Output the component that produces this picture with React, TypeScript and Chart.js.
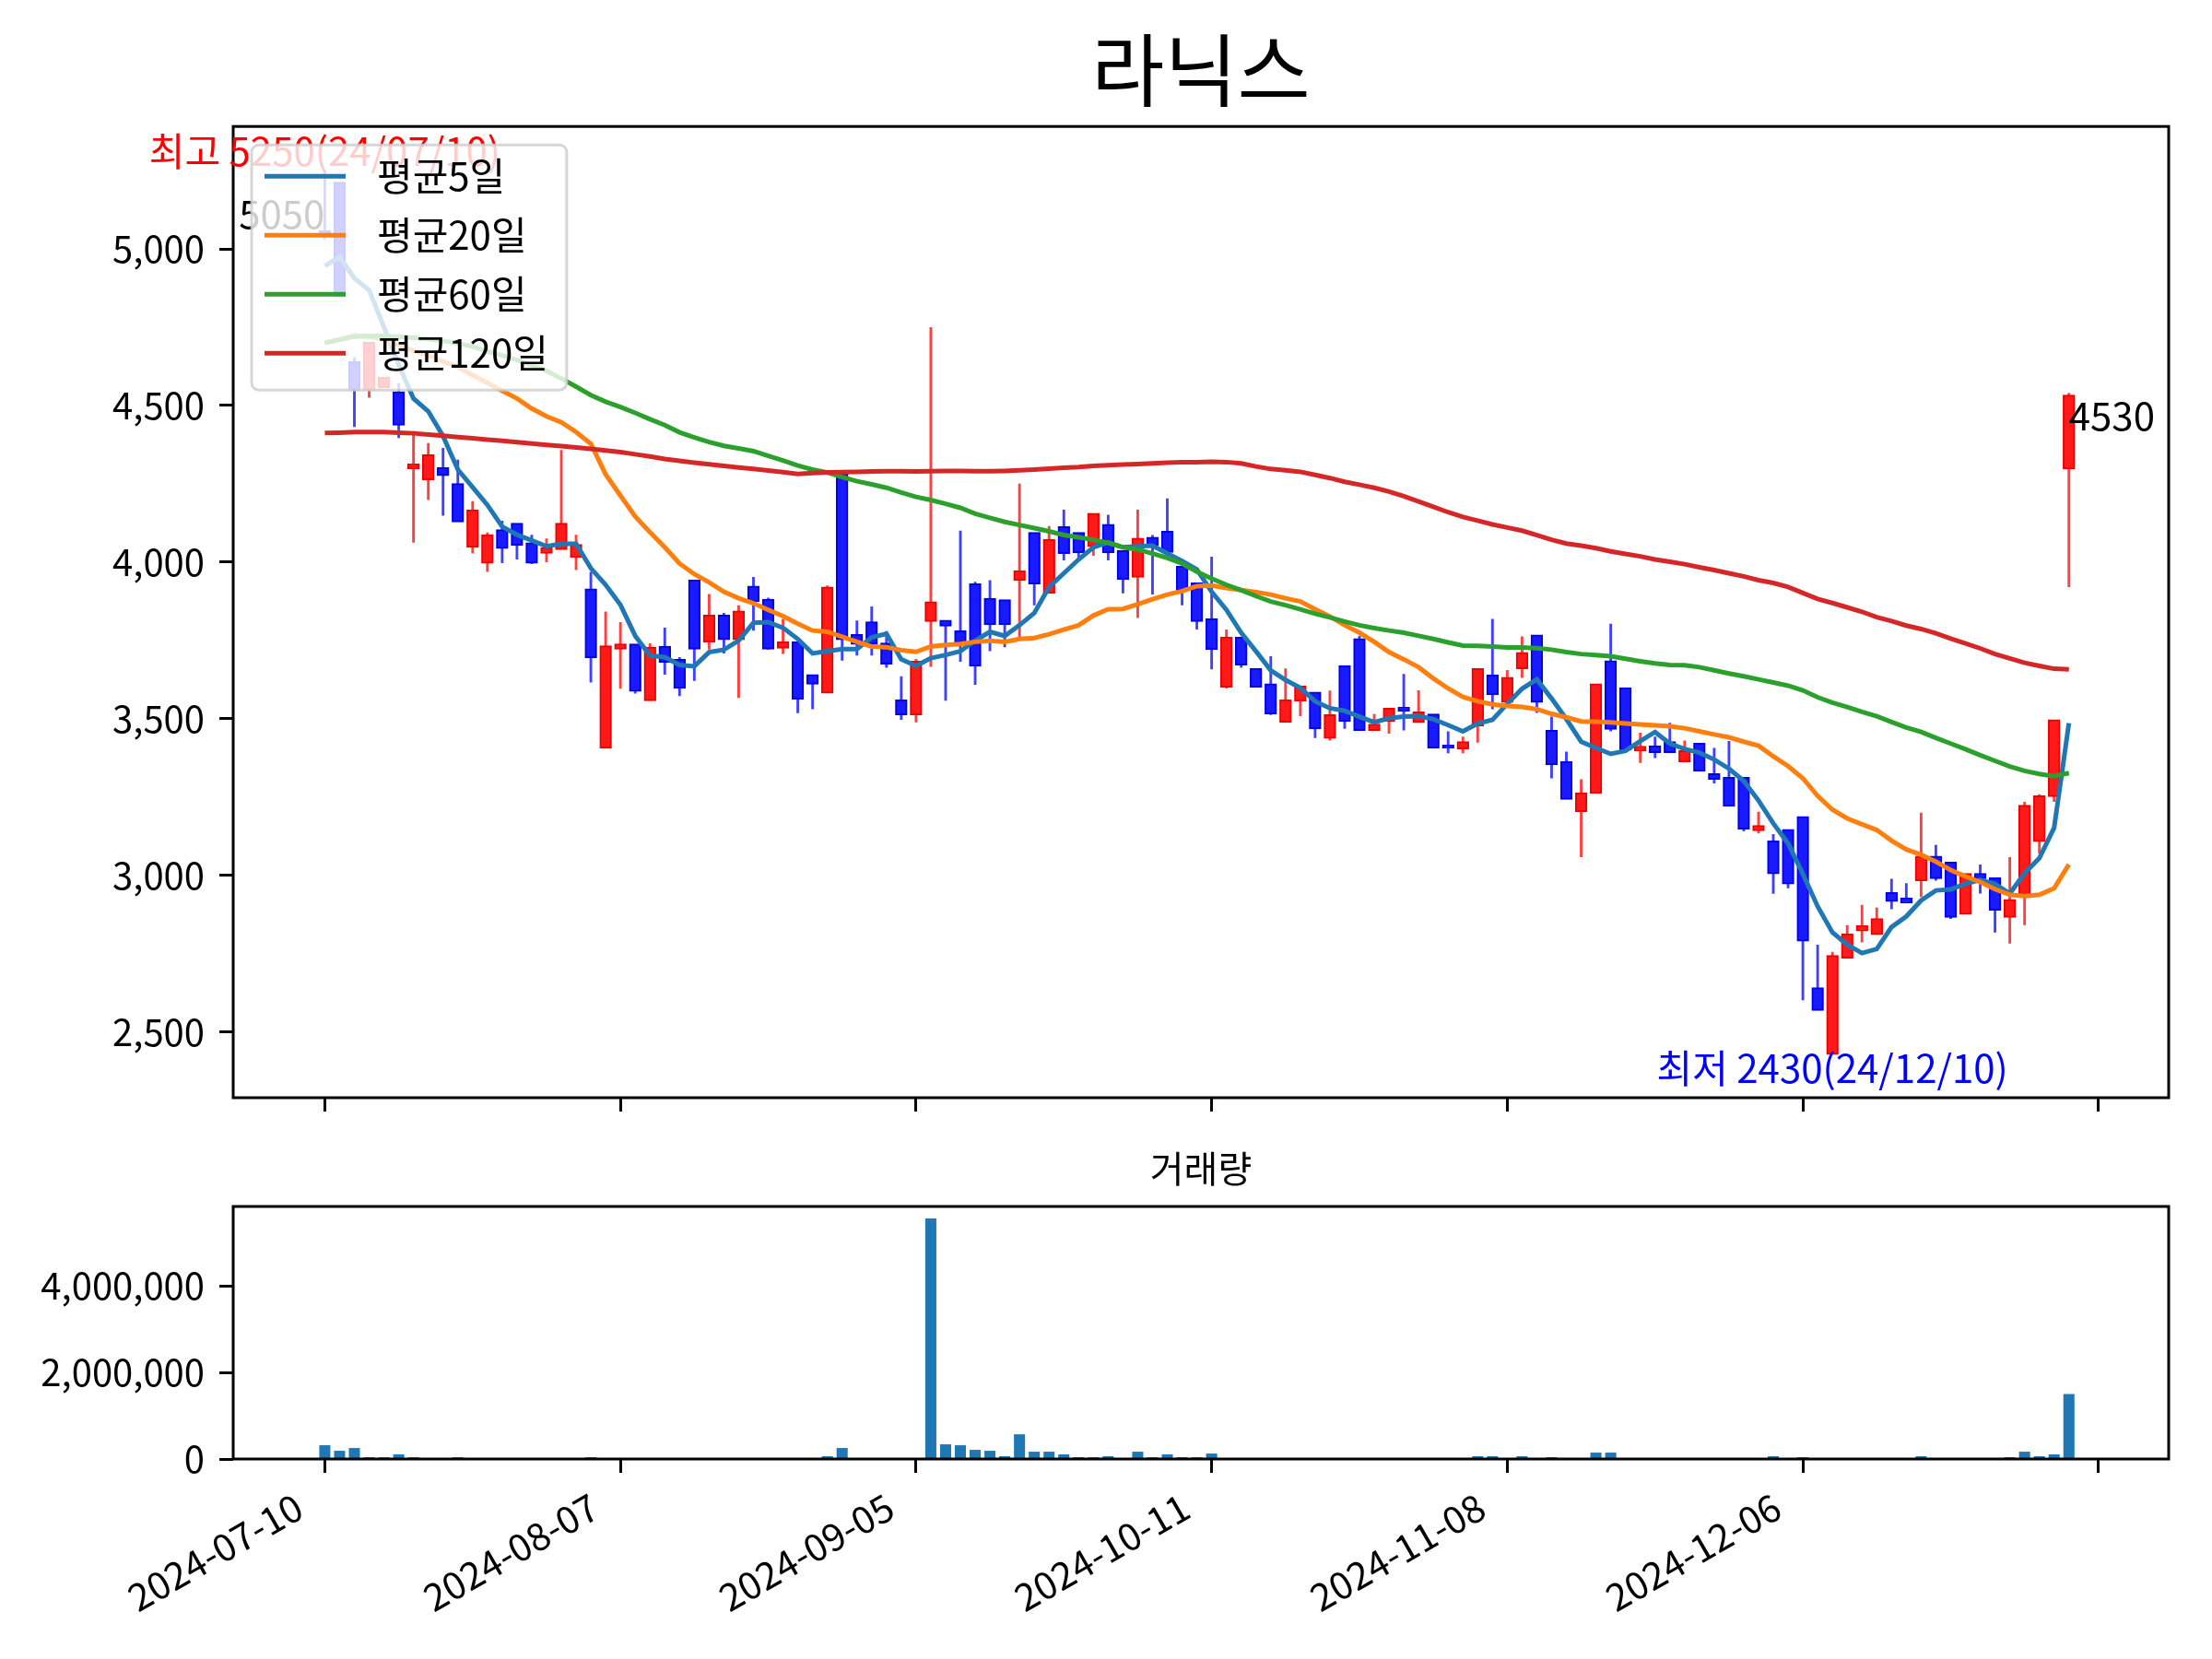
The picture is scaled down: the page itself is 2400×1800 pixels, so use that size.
import React, { useEffect, useRef } from 'react';
import { Chart, registerables } from 'chart.js';

Chart.register(...registerables);

const FONT = '"Noto Sans CJK KR", "Noto Sans", sans-serif';

const TITLE = '라닉스';
const VOLUME_TITLE = '거래량';

const DATES = [
  '2024-07-10','2024-07-11','2024-07-12','2024-07-15','2024-07-16','2024-07-17','2024-07-18','2024-07-19','2024-07-22','2024-07-23',
  '2024-07-24','2024-07-25','2024-07-26','2024-07-29','2024-07-30','2024-07-31','2024-08-01','2024-08-02','2024-08-05','2024-08-06',
  '2024-08-07','2024-08-08','2024-08-09','2024-08-12','2024-08-13','2024-08-14','2024-08-16','2024-08-19','2024-08-20','2024-08-21',
  '2024-08-22','2024-08-23','2024-08-26','2024-08-27','2024-08-28','2024-08-29','2024-08-30','2024-09-02','2024-09-03','2024-09-04',
  '2024-09-05','2024-09-06','2024-09-09','2024-09-10','2024-09-11','2024-09-12','2024-09-13','2024-09-19','2024-09-20','2024-09-23',
  '2024-09-24','2024-09-25','2024-09-26','2024-09-27','2024-09-30','2024-10-02','2024-10-04','2024-10-07','2024-10-08','2024-10-10',
  '2024-10-11','2024-10-14','2024-10-15','2024-10-16','2024-10-17','2024-10-18','2024-10-21','2024-10-22','2024-10-23','2024-10-24',
  '2024-10-25','2024-10-28','2024-10-29','2024-10-30','2024-10-31','2024-11-01','2024-11-04','2024-11-05','2024-11-06','2024-11-07',
  '2024-11-08','2024-11-11','2024-11-12','2024-11-13','2024-11-14','2024-11-15','2024-11-18','2024-11-19','2024-11-20','2024-11-21',
  '2024-11-22','2024-11-25','2024-11-26','2024-11-27','2024-11-28','2024-11-29','2024-12-02','2024-12-03','2024-12-04','2024-12-05',
  '2024-12-06','2024-12-09','2024-12-10','2024-12-11','2024-12-12','2024-12-13','2024-12-16','2024-12-17','2024-12-18','2024-12-19',
  '2024-12-20','2024-12-23','2024-12-24','2024-12-26','2024-12-27','2024-12-30','2025-01-02','2025-01-03','2025-01-06',
];

const OPEN = [
  5055, 5210, 4637, 4553, 4560, 4541, 4301, 4266, 4298, 4247,
  4050, 3999, 4100, 4121, 4058, 4031, 4043, 4018, 3911, 3408,
  3725, 3735, 3560, 3728, 3686, 3940, 3747, 3827, 3755, 3920,
  3878, 3728, 3742, 3637, 3584, 4280, 3765, 3806, 3738, 3556,
  3515, 3813, 3811, 3777, 3927, 3881, 3876, 3944, 4091, 3903,
  4110, 4091, 4052, 4117, 4034, 3954, 4076, 4095, 3983, 3930,
  3816, 3603, 3757, 3657, 3608, 3491, 3559, 3581, 3440, 3666,
  3752, 3465, 3494, 3533, 3490, 3511, 3412, 3406, 3479, 3636,
  3555, 3662, 3764, 3459, 3360, 3206, 3264, 3681, 3595, 3400,
  3410, 3423, 3364, 3418, 3321, 3309, 3309, 3145, 3106, 3143,
  3184, 2637, 2430, 2737, 2825, 2813, 2941, 2923, 2985, 3057,
  3038, 2878, 3002, 2988, 2868, 2941, 3110, 3254, 4300,
];

const HIGH = [
  5250, 5210, 4654, 4698, 4590, 4572, 4418, 4380, 4364, 4327,
  4194, 4094, 4132, 4121, 4087, 4075, 4358, 4087, 3968, 3842,
  3808, 3735, 3740, 3790, 3696, 3940, 3898, 3837, 3862, 3952,
  3886, 3818, 3745, 3637, 3925, 4280, 3813, 3858, 3779, 3635,
  3690, 4750, 3811, 4100, 3937, 3942, 3876, 4250, 4091, 4115,
  4167, 4091, 4152, 4151, 4034, 4167, 4086, 4203, 3983, 3930,
  4017, 3784, 3757, 3657, 3699, 3660, 3601, 3581, 3589, 3666,
  3764, 3514, 3530, 3642, 3590, 3511, 3459, 3442, 3656, 3818,
  3655, 3762, 3764, 3506, 3394, 3306, 3608, 3803, 3595, 3455,
  3442, 3486, 3430, 3420, 3406, 3428, 3309, 3202, 3131, 3143,
  3184, 2778, 2755, 2840, 2905, 2896, 2988, 2974, 3199, 3096,
  3038, 3002, 3034, 2990, 3057, 3234, 3258, 3493, 4540,
];

const LOW = [
  5030, 4850, 4431, 4525, 4558, 4396, 4062, 4198, 4148, 4131,
  4027, 3968, 3996, 4008, 3993, 3999, 4043, 3974, 3615, 3408,
  3595, 3580, 3560, 3640, 3572, 3620, 3720, 3708, 3566, 3781,
  3720, 3706, 3517, 3530, 3584, 3685, 3701, 3701, 3662, 3496,
  3488, 3665, 3557, 3681, 3608, 3715, 3728, 3759, 3862, 3903,
  4005, 4012, 4020, 4005, 3900, 3821, 3896, 4034, 3862, 3784,
  3657, 3596, 3662, 3603, 3511, 3491, 3508, 3438, 3430, 3467,
  3465, 3465, 3452, 3462, 3490, 3408, 3389, 3389, 3423, 3530,
  3545, 3630, 3518, 3309, 3245, 3057, 3264, 3459, 3403, 3358,
  3374, 3394, 3364, 3335, 3293, 3223, 3140, 3133, 2940, 2958,
  2600, 2571, 2430, 2737, 2785, 2809, 2891, 2914, 2930, 2982,
  2860, 2878, 2941, 2817, 2781, 2840, 3068, 3234, 3920,
];

const CLOSE = [
  5050, 4850, 4553, 4698, 4587, 4440, 4310, 4339, 4279, 4131,
  4163, 4084, 4046, 4056, 3999, 4043, 4121, 4053, 3697, 3729,
  3735, 3590, 3725, 3683, 3600, 3725, 3827, 3755, 3840, 3876,
  3725, 3742, 3565, 3613, 3917, 3755, 3740, 3740, 3677, 3515,
  3680, 3870, 3798, 3740, 3670, 3803, 3803, 3969, 3933, 4069,
  4030, 4032, 4152, 4032, 3947, 4073, 4056, 4034, 3910, 3813,
  3723, 3757, 3674, 3603, 3518, 3557, 3601, 3470, 3509, 3494,
  3465, 3479, 3530, 3527, 3518, 3408, 3408, 3423, 3656, 3579,
  3628, 3708, 3555, 3355, 3245, 3260, 3608, 3469, 3403, 3408,
  3394, 3394, 3394, 3335, 3309, 3223, 3150, 3155, 3007, 2975,
  2792, 2571, 2740, 2809, 2835, 2858, 2919, 2914, 3057, 2992,
  2868, 3002, 2992, 2891, 2919, 3220, 3250, 3493, 4530,
];

const VOLUME = [
  318000, 190000, 254000, 42000, 42000, 106000, 42000, 8000, 21000, 42000,
  21000, 21000, 8000, 6000, 6000, 6000, 21000, 8000, 42000, 21000,
  8000, 6000, 8000, 21000, 8000, 21000, 21000, 8000, 8000, 21000,
  8000, 8000, 21000, 8000, 64000, 254000, 8000, 21000, 8000, 8000,
  21000, 5560000, 339000, 318000, 212000, 190000, 64000, 571000, 169000, 169000,
  106000, 42000, 42000, 64000, 21000, 169000, 42000, 106000, 42000, 42000,
  127000, 21000, 8000, 8000, 21000, 8000, 6000, 8000, 6000, 8000,
  21000, 8000, 6000, 21000, 8000, 8000, 6000, 8000, 64000, 64000,
  8000, 64000, 21000, 42000, 8000, 21000, 148000, 148000, 8000, 6000,
  8000, 8000, 6000, 8000, 8000, 6000, 8000, 8000, 64000, 8000,
  42000, 21000, 21000, 8000, 21000, 8000, 8000, 8000, 64000, 8000,
  21000, 8000, 8000, 8000, 42000, 169000, 64000, 106000, 1500000,
];

const MA5 = [
  4945, 4975, 4906, 4868, 4750, 4630, 4522, 4481, 4402, 4295,
  4239, 4182, 4113, 4087, 4069, 4050, 4058, 4058, 3980, 3927,
  3863, 3764, 3701, 3696, 3671, 3667, 3712, 3720, 3749, 3806,
  3808, 3790, 3754, 3708, 3715, 3722, 3722, 3759, 3771, 3689,
  3668, 3693, 3703, 3715, 3749, 3777, 3764, 3798, 3837, 3920,
  3964, 4008, 4047, 4063, 4047, 4050, 4052, 4027, 4003, 3976,
  3905, 3847, 3774, 3715, 3654, 3623, 3598, 3555, 3533, 3525,
  3506, 3488, 3501, 3506, 3508, 3498, 3479, 3459, 3484, 3496,
  3547, 3595, 3625, 3564, 3498, 3426, 3406, 3387, 3397, 3428,
  3457, 3420, 3403, 3391, 3369, 3340, 3301, 3238, 3165, 3101,
  3004, 2900, 2817, 2778, 2751, 2764, 2834, 2868, 2919, 2951,
  2954, 2972, 2985, 2972, 2941, 3006, 3054, 3151, 3485,
];

const MA20 = [
  4700, 4711, 4723, 4719, 4711, 4692, 4675, 4660, 4641, 4622,
  4597, 4572, 4547, 4522, 4490, 4465, 4446, 4415, 4377, 4280,
  4212, 4145, 4095, 4047, 3995, 3961, 3935, 3905, 3884, 3868,
  3847, 3827, 3803, 3781, 3777, 3761, 3745, 3730, 3728, 3718,
  3713, 3730, 3735, 3738, 3745, 3748, 3745, 3754, 3757, 3769,
  3784, 3798, 3829, 3849, 3850, 3865, 3881, 3896, 3907, 3923,
  3925, 3917, 3910, 3904, 3896, 3884, 3874, 3849, 3826, 3798,
  3774, 3745, 3712, 3689, 3664, 3628, 3596, 3569, 3555, 3545,
  3540, 3537, 3530, 3515, 3504, 3491, 3490, 3488, 3484, 3481,
  3478, 3475, 3469, 3459, 3449, 3440, 3426, 3413, 3379, 3348,
  3309, 3253, 3209, 3181, 3162, 3144, 3110, 3082, 3065, 3043,
  3016, 2996, 2978, 2955, 2937, 2933, 2937, 2958, 3034,
];

const MA60 = [
  4700, 4710, 4720, 4722, 4722, 4720, 4716, 4712, 4706, 4698,
  4688, 4672, 4660, 4645, 4628, 4610, 4586, 4560, 4533, 4512,
  4495, 4476, 4456, 4437, 4414, 4398, 4383, 4371, 4363, 4354,
  4339, 4324, 4308, 4295, 4286, 4271, 4258, 4248, 4237, 4222,
  4208, 4198, 4186, 4173, 4154, 4141, 4128, 4118, 4108, 4098,
  4086, 4079, 4071, 4061, 4047, 4040, 4027, 4013, 3995, 3969,
  3947, 3927, 3910, 3891, 3874, 3862, 3849, 3835, 3823, 3810,
  3798, 3789, 3781, 3774, 3764, 3754, 3743, 3733, 3732, 3730,
  3727, 3727, 3725, 3720, 3712, 3706, 3703, 3699, 3691, 3683,
  3676, 3671, 3670, 3664, 3654, 3644, 3635, 3625, 3615, 3605,
  3590, 3568, 3551, 3537, 3521, 3507, 3489, 3471, 3457, 3438,
  3420, 3402, 3383, 3365, 3347, 3333, 3323, 3316, 3326,
];

const MA120 = [
  4412, 4413, 4415, 4415, 4415, 4413, 4411, 4407, 4403, 4399,
  4395, 4391, 4387, 4383, 4378, 4374, 4370, 4366, 4361, 4356,
  4351, 4344, 4337, 4329, 4323, 4317, 4312, 4307, 4302, 4297,
  4292, 4287, 4281, 4284, 4286, 4287, 4288, 4289, 4290, 4290,
  4289, 4290, 4291, 4291, 4290, 4290, 4291, 4293, 4295, 4298,
  4301, 4303, 4307, 4309, 4311, 4313, 4315, 4317, 4319, 4319,
  4320, 4319, 4315, 4305, 4297, 4293, 4288, 4278, 4268, 4256,
  4247, 4237, 4225, 4210, 4193, 4176, 4159, 4144, 4132, 4120,
  4110, 4100, 4086, 4071, 4059, 4052, 4044, 4034, 4026, 4018,
  4008, 4001, 3993, 3983, 3974, 3964, 3954, 3942, 3933, 3920,
  3901, 3882, 3869, 3855, 3841, 3824, 3811, 3797, 3786, 3772,
  3755, 3740, 3724, 3706, 3692, 3678, 3668, 3659, 3657,
];

const MA_LABELS = ['평균5일', '평균20일', '평균60일', '평균120일'];
const MA_COLORS = ['#1f77b4', '#ff7f0e', '#2ca02c', '#d62728'];
const MA_DATA = [MA5, MA20, MA60, MA120];

const PRICE_TICKS = [2500, 3000, 3500, 4000, 4500, 5000];
const VOLUME_TICKS = [0, 2000000, 4000000];
const X_TICKS = [0, 20, 40, 60, 80, 100, 120];

// layout constants (pixels / axis range)
const X_MIN = -6.2;
const X_MAX = 124.75;
const PLOT_LEFT = 253;
const PLOT_RIGHT_PAD = 47;
const MAIN_H = 1250;
const MAIN_BOTTOM = 1191;
const VOL_TOP = 1200;
const VOL_H = 600;
const VOL_PLOT_BOTTOM = 383;

const UP_BODY = '#ff1a1a';
const UP_EDGE = '#f00000';
const DOWN_BODY = '#1a1aff';
const DOWN_EDGE = '#0000f0';
const UP_WICK = 'rgba(255,0,0,0.75)';
const DOWN_WICK = 'rgba(0,0,255,0.75)';
const VOLUME_COLOR = '#1f77b4';

const TICK_FONT = { family: FONT, size: 40 };
const XLABEL_FONT = { family: FONT, size: 41 };
const NOTE_PX = 42;

function shortDate(d: string) {
  return d.slice(2).replace(/-/g, '/');
}

const framePlugin = {
  id: 'frame',
  afterDraw(chart: any) {
    const { ctx, chartArea: a } = chart;
    ctx.save();
    ctx.strokeStyle = '#000';
    ctx.lineWidth = 3;
    ctx.strokeRect(a.left, a.top, a.right - a.left, a.bottom - a.top);
    ctx.restore();
  },
};

const notesPlugin = {
  id: 'notes',
  afterDraw(chart: any) {
    const { ctx, chartArea: a } = chart;
    const xs = chart.scales.x;
    const ys = chart.scales.y;
    const hi = Math.max(...HIGH);
    const hiIdx = HIGH.indexOf(hi);
    const lo = Math.min(...LOW);
    const loIdx = LOW.indexOf(lo);
    const last = CLOSE.length - 1;
    ctx.save();
    ctx.font = `${NOTE_PX}px ${FONT}`;
    const put = (text: string, idx: number, val: number, color: string, align: any, base: any, dy = 0) => {
      ctx.fillStyle = color;
      ctx.textAlign = align;
      ctx.textBaseline = base;
      ctx.fillText(text, xs.getPixelForValue(idx), ys.getPixelForValue(val) + dy);
    };
    put(`최고 ${hi}(${shortDate(DATES[hiIdx])})`, hiIdx, hi, '#ff0000', 'center', 'bottom');
    put(`${CLOSE[0]}`, 0, CLOSE[0], '#000000', 'right', 'bottom');
    put(`${CLOSE[last]}`, last, CLOSE[last], '#000000', 'left', 'top');
    put(`최저 ${lo}(${shortDate(DATES[loIdx])})`, loIdx, lo, '#0000ff', 'center', 'top', -5);

    // legend box
    const bx = a.left + 20;
    const by = a.top + 20;
    const rowH = 64;
    const firstRow = 34;
    const lineX0 = bx + 14;
    const lineX1 = bx + 102;
    const textX = bx + 136;
    const textW = Math.max(...MA_LABELS.map((l) => ctx.measureText(l).width));
    const bw = textX + textW + 20 - bx;
    const bh = firstRow + rowH * (MA_LABELS.length - 1) + 40;
    ctx.beginPath();
    if (ctx.roundRect) ctx.roundRect(bx, by, bw, bh, 8);
    else ctx.rect(bx, by, bw, bh);
    ctx.fillStyle = 'rgba(255,255,255,0.8)';
    ctx.fill();
    ctx.lineWidth = 3;
    ctx.strokeStyle = 'rgba(204,204,204,0.8)';
    ctx.stroke();
    MA_LABELS.forEach((label, k) => {
      const y = by + firstRow + rowH * k;
      ctx.beginPath();
      ctx.moveTo(lineX0, y);
      ctx.lineTo(lineX1, y);
      ctx.strokeStyle = MA_COLORS[k];
      ctx.lineWidth = 5;
      ctx.stroke();
      ctx.fillStyle = '#000000';
      ctx.textAlign = 'left';
      ctx.textBaseline = 'middle';
      ctx.fillText(label, textX, y);
    });
    ctx.restore();
  },
};

function tickGrid() {
  return {
    display: true,
    drawOnChartArea: false,
    drawTicks: true,
    tickLength: 15,
    tickWidth: 3,
    tickColor: '#000000',
    offset: false,
  };
}

function PriceChart() {
  const ref = useRef<HTMLCanvasElement>(null);
  useEffect(() => {
    const idx = CLOSE.map((_, i) => i);
    const up = idx.map((i) => CLOSE[i] >= OPEN[i]);
    const lo = Math.min(...LOW);
    const hi = Math.max(...HIGH);
    const pad = (hi - lo) * 0.05;
    const datasets: any[] = [
      {
        type: 'bar',
        label: 'wick',
        data: idx.map((i) => ({ x: i, y: [LOW[i], HIGH[i]] })),
        backgroundColor: up.map((u) => (u ? UP_WICK : DOWN_WICK)),
        borderWidth: 0,
        grouped: false,
        categoryPercentage: 1,
        barPercentage: 0.18,
        order: 6,
      },
      {
        type: 'bar',
        label: 'body',
        data: idx.map((i) => ({ x: i, y: [Math.min(OPEN[i], CLOSE[i]), Math.max(OPEN[i], CLOSE[i])] })),
        backgroundColor: up.map((u) => (u ? UP_BODY : DOWN_BODY)),
        borderColor: up.map((u) => (u ? UP_EDGE : DOWN_EDGE)),
        borderWidth: 2,
        borderSkipped: false,
        inflateAmount: 1.5,
        grouped: false,
        categoryPercentage: 1,
        barPercentage: 0.65,
        order: 5,
      },
      ...MA_DATA.map((series, k) => ({
        type: 'line',
        label: MA_LABELS[k],
        data: series.map((v, i) => ({ x: i, y: v })),
        borderColor: MA_COLORS[k],
        borderWidth: 5,
        pointRadius: 0,
        fill: false,
        tension: 0,
        order: 4 - k,
      })),
    ];
    const chart = new Chart(ref.current as HTMLCanvasElement, {
      type: 'bar',
      data: { datasets },
      options: {
        responsive: false,
        animation: false,
        devicePixelRatio: 1,
        events: [],
        layout: { padding: { left: 0, right: PLOT_RIGHT_PAD, top: 0, bottom: 0 } },
        plugins: {
          legend: { display: false },
          tooltip: { enabled: false },
          title: {
            display: true,
            text: TITLE,
            fullSize: false,
            color: '#000000',
            font: { family: FONT, size: 86, weight: 'normal', lineHeight: 1.2 },
            padding: { top: 25, bottom: 9 },
          },
        },
        scales: {
          x: {
            type: 'linear',
            min: X_MIN,
            max: X_MAX,
            offset: false,
            grid: tickGrid(),
            border: { display: false },
            ticks: { autoSkip: false, callback: () => '', font: TICK_FONT, color: '#000', padding: 12 },
            afterBuildTicks: (s: any) => {
              s.ticks = X_TICKS.map((v) => ({ value: v }));
            },
            afterFit: (s: any) => {
              s.height = MAIN_H - MAIN_BOTTOM;
            },
          },
          y: {
            type: 'linear',
            min: lo - pad,
            max: hi + pad,
            grid: tickGrid(),
            border: { display: false },
            ticks: {
              font: TICK_FONT,
              color: '#000',
              padding: 16,
              callback: (v: any) => Number(v).toLocaleString('en-US'),
            },
            afterBuildTicks: (s: any) => {
              s.ticks = PRICE_TICKS.map((v) => ({ value: v }));
            },
            afterFit: (s: any) => {
              s.width = PLOT_LEFT;
            },
          },
        },
      } as any,
      plugins: [framePlugin, notesPlugin],
    });
    return () => chart.destroy();
  }, []);
  return (
    <canvas
      ref={ref}
      width={2400}
      height={MAIN_H}
      style={{ position: 'absolute', left: 0, top: 0, width: 2400, height: MAIN_H }}
    />
  );
}

function VolumeChart() {
  const ref = useRef<HTMLCanvasElement>(null);
  useEffect(() => {
    const vmax = Math.max(...VOLUME) * 1.05;
    const chart = new Chart(ref.current as HTMLCanvasElement, {
      type: 'bar',
      data: {
        datasets: [
          {
            type: 'bar',
            label: VOLUME_TITLE,
            data: VOLUME.map((v, i) => ({ x: i, y: v })),
            backgroundColor: VOLUME_COLOR,
            borderWidth: 0,
            grouped: false,
            categoryPercentage: 1,
            barPercentage: 0.75,
          },
        ],
      },
      options: {
        responsive: false,
        animation: false,
        devicePixelRatio: 1,
        events: [],
        layout: { padding: { left: 0, right: PLOT_RIGHT_PAD, top: 0, bottom: 0 } },
        plugins: {
          legend: { display: false },
          tooltip: { enabled: false },
          title: {
            display: true,
            text: VOLUME_TITLE,
            fullSize: false,
            color: '#000000',
            font: { family: FONT, size: 40, weight: 'normal', lineHeight: 1.2 },
            padding: { top: 44, bottom: 17 },
          },
        },
        scales: {
          x: {
            type: 'linear',
            min: X_MIN,
            max: X_MAX,
            offset: false,
            grid: tickGrid(),
            border: { display: false },
            ticks: {
              autoSkip: false,
              maxRotation: 30,
              minRotation: 30,
              font: XLABEL_FONT,
              color: '#000',
              padding: 12,
              labelOffset: -28,
              callback: (v: any) => DATES[Number(v)] ?? '',
            },
            afterBuildTicks: (s: any) => {
              s.ticks = X_TICKS.map((v) => ({ value: v }));
            },
            afterFit: (s: any) => {
              s.height = VOL_H - VOL_PLOT_BOTTOM;
            },
          },
          y: {
            type: 'linear',
            min: 0,
            max: vmax,
            grid: tickGrid(),
            border: { display: false },
            ticks: {
              font: TICK_FONT,
              color: '#000',
              padding: 16,
              callback: (v: any) => Number(v).toLocaleString('en-US'),
            },
            afterBuildTicks: (s: any) => {
              s.ticks = VOLUME_TICKS.map((v) => ({ value: v }));
            },
            afterFit: (s: any) => {
              s.width = PLOT_LEFT;
            },
          },
        },
      } as any,
      plugins: [framePlugin],
    });
    return () => chart.destroy();
  }, []);
  return (
    <canvas
      ref={ref}
      width={2400}
      height={VOL_H}
      style={{ position: 'absolute', left: 0, top: VOL_TOP, width: 2400, height: VOL_H }}
    />
  );
}

export default function App() {
  useEffect(() => {
    document.body.style.margin = '0';
  }, []);
  return (
    <div
      style={{
        position: 'fixed',
        left: 0,
        top: 0,
        width: 2400,
        height: 1800,
        background: '#ffffff',
        overflow: 'hidden',
      }}
    >
      <PriceChart />
      <VolumeChart />
    </div>
  );
}
